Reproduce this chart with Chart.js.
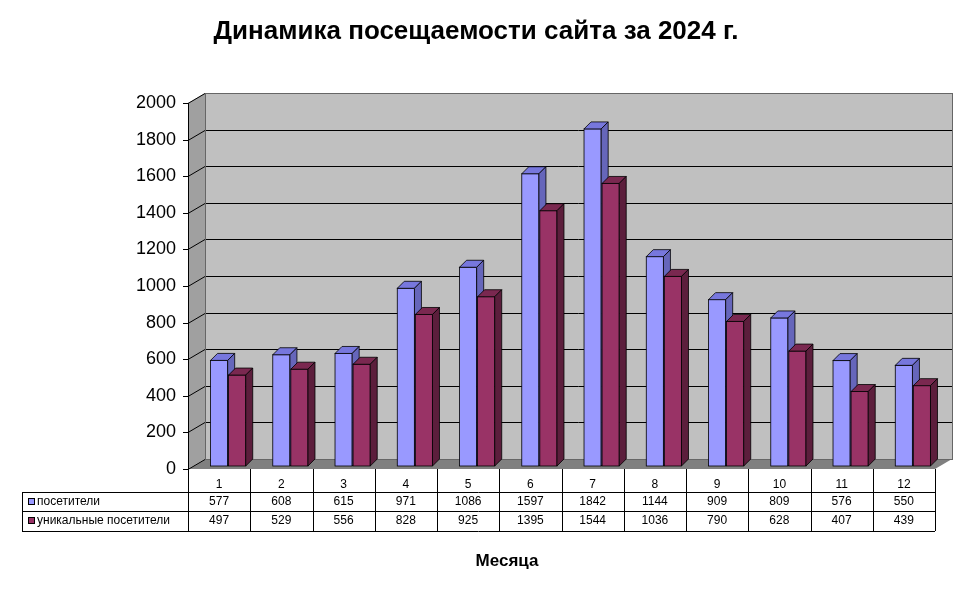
<!DOCTYPE html><html><head><meta charset="utf-8">
<script src="https://cdn.jsdelivr.net/npm/chart.js@4"></script>
<style>body{margin:0;background:#fff}#w{width:962px;height:591px}</style></head><body><div id="w"><canvas id="c"></canvas></div>
<script>
const months=['1','2','3','4','5','6','7','8','9','10','11','12'];
const visitors=[577,608,615,971,1086,1597,1842,1144,909,809,576,550];
const unique=[497,529,556,828,925,1395,1544,1036,790,628,407,439];
const seriesNames=['посетители','уникальные посетители'];
const faces=[['#9999ff','#7777dd','#6666bb'],['#993366','#7a2850','#5c1e3c']];
const DX=17,DY=-10,BX=9,BY=-3,BD=7;
const plug={id:'p3d',
beforeDatasetsDraw(ch){const c=ch.ctx,a=ch.chartArea,y=ch.scales.y;c.save();
c.fillStyle='#c0c0c0';c.fillRect(a.left+DX,a.top+DY,a.right-a.left,a.bottom-a.top);
c.beginPath();c.moveTo(a.left,a.top);c.lineTo(a.left+DX,a.top+DY);c.lineTo(a.left+DX,a.bottom+DY);c.lineTo(a.left,a.bottom);c.closePath();c.fillStyle='#a0a0a0';c.fill();
c.beginPath();c.moveTo(a.left,a.bottom);c.lineTo(a.left+DX,a.bottom+DY);c.lineTo(a.right+DX,a.bottom+DY);c.lineTo(a.right,a.bottom);c.closePath();c.fillStyle='#808080';c.fill();
c.strokeStyle='#000';c.lineWidth=1;c.font='18px Arial';c.fillStyle='#000';c.textAlign='right';c.textBaseline='middle';
for(let v=0;v<=2000;v+=200){const py=Math.round(y.getPixelForValue(v))+0.5;c.beginPath();c.moveTo(a.left-5,py);c.lineTo(a.left,py);c.lineTo(a.left+DX,py+DY);c.lineTo(a.right+DX,py+DY);c.stroke();c.fillText(String(v),a.left-12,py);}
c.beginPath();c.moveTo(a.left+.5,a.top);c.lineTo(a.left+.5,a.bottom);c.stroke();
c.strokeStyle='#666';c.strokeRect(a.left+DX+.5,a.top+DY+.5,a.right-a.left,a.bottom-a.top);
c.restore();},
afterDatasetsDraw(ch){const c=ch.ctx;c.save();c.strokeStyle='#000';c.lineWidth=0.8;
ch.data.datasets.forEach((d,i)=>{ch.getDatasetMeta(i).data.forEach(b=>{const w=b.width,x0=b.x-w/2+BX,x1=x0+w,t=b.y+BY,bt=b.base+BY;
c.fillStyle=faces[i][0];c.fillRect(x0,t,w,bt-t);c.strokeRect(x0,t,w,bt-t);
c.beginPath();c.moveTo(x0,t);c.lineTo(x0+BD,t-BD);c.lineTo(x1+BD,t-BD);c.lineTo(x1,t);c.closePath();c.fillStyle=faces[i][1];c.fill();c.stroke();
c.beginPath();c.moveTo(x1,t);c.lineTo(x1+BD,t-BD);c.lineTo(x1+BD,bt-BD);c.lineTo(x1,bt);c.closePath();c.fillStyle=faces[i][2];c.fill();c.stroke();});});
const a=ch.chartArea,n=months.length,cw=(a.right-a.left)/n;
c.strokeStyle='#000';c.lineWidth=1;c.fillStyle='#000';c.font='12px Arial';c.textAlign='center';c.textBaseline='middle';
c.beginPath();c.moveTo(22,492.5);c.lineTo(a.right,492.5);c.moveTo(22,511.5);c.lineTo(a.right,511.5);c.moveTo(22,531.5);c.lineTo(a.right,531.5);c.moveTo(22.5,492);c.lineTo(22.5,531);
for(let k=0;k<=n;k++){const x=Math.round(a.left+k*cw)+.5;c.moveTo(x,a.bottom);c.lineTo(x,531);}c.stroke();
months.forEach((m,k)=>{const cx=a.left+(k+.5)*cw;c.fillText(m,cx,485);c.fillText(String(visitors[k]),cx,502);c.fillText(String(unique[k]),cx,521);});
c.textAlign='left';seriesNames.forEach((s,i)=>{const yy=i?521:502;c.fillStyle=faces[i][0];c.fillRect(28,yy-4,7,7);c.strokeRect(28.5,yy-3.5,6,6);c.fillStyle='#000';c.fillText(s,37,yy);});
c.textAlign='center';c.font='bold 26px Arial';c.fillText('Динамика посещаемости сайта за 2024 г.',476,32);
c.font='bold 17px Arial';c.fillText('Месяца',507,561);
c.restore();}};
new Chart(document.getElementById('c'),{type:'bar',
data:{labels:months,datasets:[{label:seriesNames[0],data:visitors,backgroundColor:'rgba(0,0,0,0)'},{label:seriesNames[1],data:unique,backgroundColor:'rgba(0,0,0,0)'}]},
options:{responsive:true,maintainAspectRatio:false,animation:false,events:[],
layout:{padding:{top:103,bottom:122,right:27,left:0}},
plugins:{legend:{display:false},title:{display:false},tooltip:{enabled:false}},
datasets:{bar:{categoryPercentage:0.58,barPercentage:0.95}},
scales:{x:{display:false},y:{min:0,max:2000,ticks:{display:false,stepSize:200},grid:{display:false},border:{display:false},afterFit(s){s.width=188;}}}},
plugins:[plug]});
</script></body></html>
